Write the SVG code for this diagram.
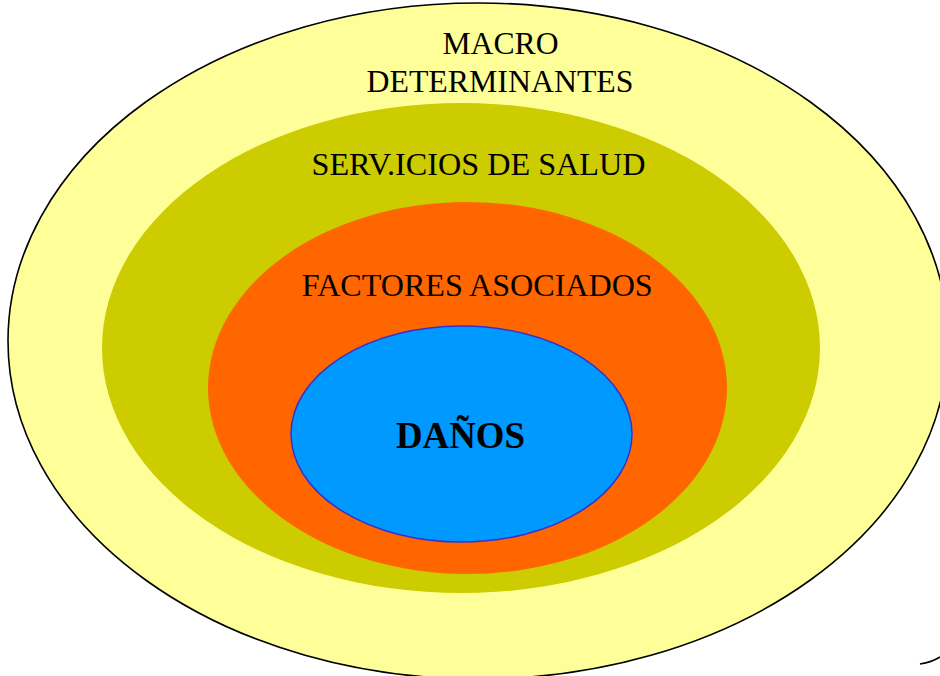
<svg xmlns="http://www.w3.org/2000/svg" width="940" height="676" viewBox="0 0 940 676">
<style>
.lbl{font-family:"Liberation Serif","Times New Roman",serif;font-size:31px;fill:#000;text-anchor:middle}
.bold{font-weight:bold;font-size:38px}
</style>
<rect x="0" y="0" width="940" height="676" fill="#ffffff"/>
<g id="macro">
<ellipse cx="478" cy="341" rx="470" ry="338" fill="#FFFF99" stroke="#000" stroke-width="1.6"/>
<text class="lbl" x="500.5" y="53.5" textLength="116" lengthAdjust="spacingAndGlyphs">MACRO</text>
<text class="lbl" x="500" y="92" textLength="267" lengthAdjust="spacingAndGlyphs">DETERMINANTES</text>
</g>
<g id="servicios">
<ellipse cx="461" cy="348" rx="359" ry="245" fill="#CCCC00"/>
<text class="lbl" x="478.5" y="174.5" textLength="334" lengthAdjust="spacingAndGlyphs">SERV.ICIOS DE SALUD</text>
</g>
<g id="factores">
<ellipse cx="467.5" cy="388" rx="259.5" ry="186" fill="#FF6600"/>
<text class="lbl" x="477.2" y="296" textLength="351" lengthAdjust="spacingAndGlyphs">FACTORES ASOCIADOS</text>
</g>
<g id="danos">
<ellipse cx="461.5" cy="434" rx="170.5" ry="108" fill="#0099FF" stroke="#3333CC" stroke-width="1.5"/>
<text class="lbl bold" x="460.5" y="447.5" textLength="129" lengthAdjust="spacingAndGlyphs">DAÑOS</text>
</g>
<g id="connectors">
<path d="M920,664 Q932,662 940,657" fill="none" stroke="#000" stroke-width="1.6"/>
</g>
</svg>
